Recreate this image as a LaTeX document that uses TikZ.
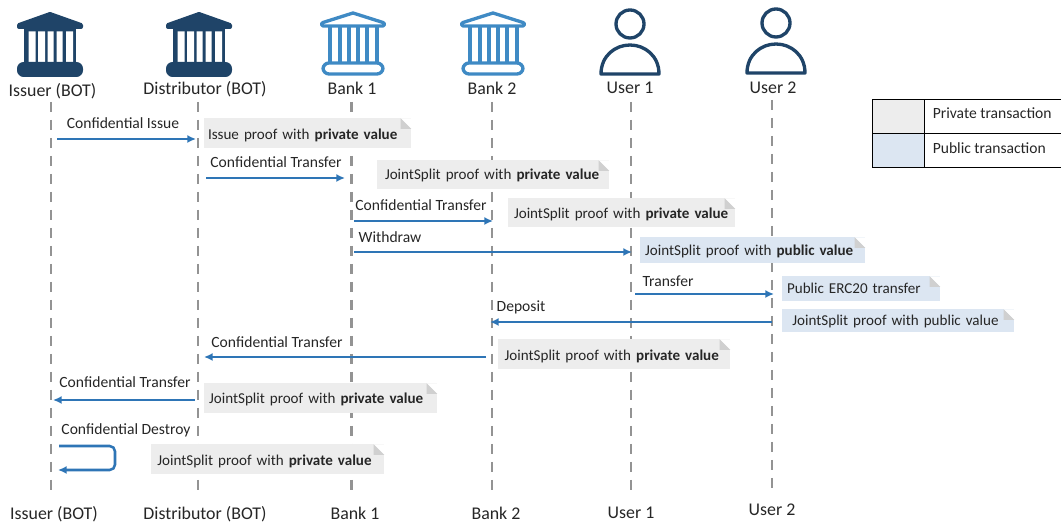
\documentclass[tikz,border=0pt]{standalone}
\usepackage{fontspec}
\setmainfont{Carlito}
\usetikzlibrary{arrows.meta}
\definecolor{navyicon}{HTML}{1F4468}
\definecolor{blueicon}{HTML}{3F8AC4}
\definecolor{arrowblue}{HTML}{2E75B6}
\definecolor{privfill}{HTML}{EDEDED}
\definecolor{pubfill}{HTML}{DCE6F2}
\definecolor{foldgrey}{HTML}{D0D0D0}
\definecolor{txt}{HTML}{262626}
\tikzset{
  x=0.75pt,y=-0.75pt,
  every node/.style={font=\fontsize{11.7pt}{13pt}\selectfont,text=txt,inner sep=0pt},
  actor/.style={font=\fontsize{13.4pt}{15pt}\selectfont},
  notefont/.style={font=\fontsize{11.3pt}{13pt}\selectfont},
  life/.style={draw=gray!85,line width=1.8pt,dash pattern=on 7.5pt off 6pt},
  msg/.style={draw=arrowblue,line width=1.9pt,-{Latex[length=6.5pt,width=6pt]}},
  note/.style 2 args={notefont,anchor=north west,minimum width=#1*0.75pt,minimum height=#2*0.75pt,
    text width=#1*0.75pt-3.2pt,align=left,inner xsep=0pt,
    path picture={
      \fill[white] ([xshift=-8pt]path picture bounding box.north east) -- (path picture bounding box.north east) -- ([yshift=-8pt]path picture bounding box.north east) -- cycle;
      \fill[foldgrey] ([xshift=-8pt]path picture bounding box.north east) -- ([xshift=-8pt,yshift=-8pt]path picture bounding box.north east) -- ([yshift=-8pt]path picture bounding box.north east) -- cycle;
    }},
  privnote/.style 2 args={note={#1}{#2},fill=privfill,text depth=0pt},
  pubnote/.style 2 args={note={#1}{#2},fill=pubfill,text depth=0pt},
  legendcell/.style={draw=black,line width=0.9pt,anchor=north west,inner sep=0pt},
  bankdark/.pic={
    \filldraw[navyicon,line width=3pt,line join=round] (-31,13) -- (0,2) -- (31,13) -- (31,15) -- (-31,15) -- cycle;
    \fill[navyicon] (-26,15) rectangle (26,54);
    \fill[white] (-21.5,19.5) rectangle (-14.5,50.5)
                 (-12,19.5) rectangle (-5,50.5)
                 (-2.5,19.5) rectangle (3.5,50.5)
                 (6.5,19.5) rectangle (12.5,50.5)
                 (16,19.5) rectangle (23,50.5);
    \fill[navyicon,rounded corners=5pt] (-33,50) rectangle (33,65);
  },
  banklight/.pic={
    \draw[blueicon,line width=2.5pt,line join=round] (-30,11.5) -- (0,2) -- (30,11.5) to[out=0,in=0,looseness=1.6] (30,15) -- (-30,15) to[out=180,in=180,looseness=1.6] cycle;
    \draw[blueicon,line width=2.5pt] (-23,15) -- (-23,51) (-13,15) -- (-13,51) (-4,15) -- (-4,51) (5,15) -- (5,51) (14,15) -- (14,51) (24,15) -- (24,51);
    \draw[blueicon,line width=2.5pt,rounded corners=4.5pt] (-30,52) rectangle (30,63);
  },
  personicon/.pic={
    \draw[navyicon,line width=2.5pt] (0,0) circle [x radius=14,y radius=14];
    \draw[navyicon,line width=2.5pt,line join=round] (-29,50) .. controls (-29,32) and (-15,21) .. (0,21) .. controls (15,21) and (29,32) .. (29,50) -- cycle;
  }
}
\begin{document}
\begin{tikzpicture}
\useasboundingbox (0,0) rectangle (1061,523);
% icons
\pic at (50,12) {bankdark};
\pic at (199,12) {bankdark};
\pic at (353,11) {banklight};
\pic at (493,11) {banklight};
\pic at (630,24) {personicon};
\pic at (776,23) {personicon};
% actor names
\node[actor] (t1) at (52.5,91) {Issuer (BOT)};
\node[actor] (t2) at (205,89) {Distributor (BOT)};
\node[actor] (t3) at (352,88) {Bank 1};
\node[actor] (t4) at (492,88) {Bank 2};
\node[actor] (t5) at (630,88) {User 1};
\node[actor] (t6) at (773,88) {User 2};
\node[actor] (b1) at (54,514) {Issuer (BOT)};
\node[actor] (b2) at (205,514) {Distributor (BOT)};
\node[actor] (b3) at (355,513) {Bank 1};
\node[actor] (b4) at (496,513) {Bank 2};
\node[actor] (b5) at (631,513) {User 1};
\node[actor] (b6) at (772,510) {User 2};
% lifelines
\coordinate (l1a) at (51,102); \coordinate (l1b) at (51,498);
\coordinate (l2a) at (198,102); \coordinate (l2b) at (198,498);
\coordinate (l3a) at (351.5,102); \coordinate (l3b) at (351.5,494);
\coordinate (l4a) at (492,102); \coordinate (l4b) at (492,494);
\coordinate (l5a) at (631,102); \coordinate (l5b) at (631,494);
\coordinate (l6a) at (772,100); \coordinate (l6b) at (772,494);
\draw[life] (l1a) -- (l1b);
\draw[life] (l2a) -- (l2b);
\draw[life] (l3a) -- (l3b);
\draw[life] (l4a) -- (l4b);
\draw[life] (l5a) -- (l5b);
\draw[life] (l6a) -- (l6b);
% notes
\node[privnote={207}{30}] (n1) at (204,118) {\hspace*{1.2pt}\raisebox{-0.7pt}{Issue proof with \textbf{private value}}};
\node[privnote={232}{29}] (n2) at (377,160) {\hspace*{4.2pt}\raisebox{1.2pt}{JointSplit proof with \textbf{private value}}};
\node[privnote={227}{29}] (n3) at (508,198) {\hspace*{2.7pt}JointSplit proof with \textbf{private value}};
\node[pubnote={225}{26}] (n4) at (640,237) {\hspace*{2pt}JointSplit proof with \textbf{public value}};
\node[pubnote={158}{25}] (n5) at (782,276) {\hspace*{2pt}Public ERC20 transfer};
\node[pubnote={232}{23}] (n6) at (782,309) {\hspace*{6pt}JointSplit proof with public value};
\node[privnote={232}{30}] (n7) at (498,339) {\hspace*{3.2pt}\raisebox{-0.7pt}{JointSplit proof with \textbf{private value}}};
\node[privnote={233}{30}] (n8) at (204,383) {\hspace*{2pt}JointSplit proof with \textbf{private value}};
\node[privnote={233}{30}] (n9) at (151,444) {\hspace*{3pt}\raisebox{-0.7pt}{JointSplit proof with \textbf{private value}}};
% messages
\coordinate (m1a) at (57,139); \coordinate (m1b) at (196,139);
\draw[msg] (m1a) -- (m1b);
\node (lb1) at (123,123) {Confidential Issue};
\coordinate (m2a) at (206,178); \coordinate (m2b) at (345,178);
\draw[msg] (m2a) -- (m2b);
\node (lb2) at (276,162) {Confidential Transfer};
\coordinate (m3a) at (354,221); \coordinate (m3b) at (493,221);
\draw[msg] (m3a) -- (m3b);
\node (lb3) at (421,205) {Confidential Transfer};
\coordinate (m4a) at (354,252); \coordinate (m4b) at (632,252);
\draw[msg] (m4a) -- (m4b);
\node (lb4) at (390,237) {Withdraw};
\coordinate (m5a) at (635,294); \coordinate (m5b) at (774,294);
\draw[msg] (m5a) -- (m5b);
\node (lb5) at (668,281) {Transfer};
\coordinate (m6a) at (772,322); \coordinate (m6b) at (490,322);
\draw[msg] (m6a) -- (m6b);
\node (lb6) at (521,307) {Deposit};
\coordinate (m7a) at (486,357); \coordinate (m7b) at (204,357);
\draw[msg] (m7a) -- (m7b);
\node (lb7) at (277,342) {Confidential Transfer};
\coordinate (m8a) at (195,400); \coordinate (m8b) at (53,400);
\draw[msg] (m8a) -- (m8b);
\node (lb8) at (125,382) {Confidential Transfer};
\coordinate (m9a) at (59,446); \coordinate (m9c) at (115,446); \coordinate (m9d) at (115,470); \coordinate (m9b) at (58,470);
\draw[msg,rounded corners=4pt] (m9a) -- (m9c) -- (m9d) -- (m9b);
\node (lb9) at (126,430) {Confidential Destroy};
% legend
\node[legendcell,fill=privfill,minimum width=39pt,minimum height=25.5pt] (c1) at (872,99) {};
\node[legendcell,fill=pubfill,minimum width=39pt,minimum height=25.5pt] (c2) at (872,133) {};
\node[legendcell,minimum width=103pt,minimum height=25.5pt] (c3) at (924,99) {};
\node[legendcell,minimum width=103pt,minimum height=25.5pt] (c4) at (924,133) {};
\node[anchor=west] (lg1) at (932.5,113.5) {Private transaction};
\node[anchor=west] (lg2) at (932.5,148.5) {Public transaction};
\end{tikzpicture}
\end{document}
